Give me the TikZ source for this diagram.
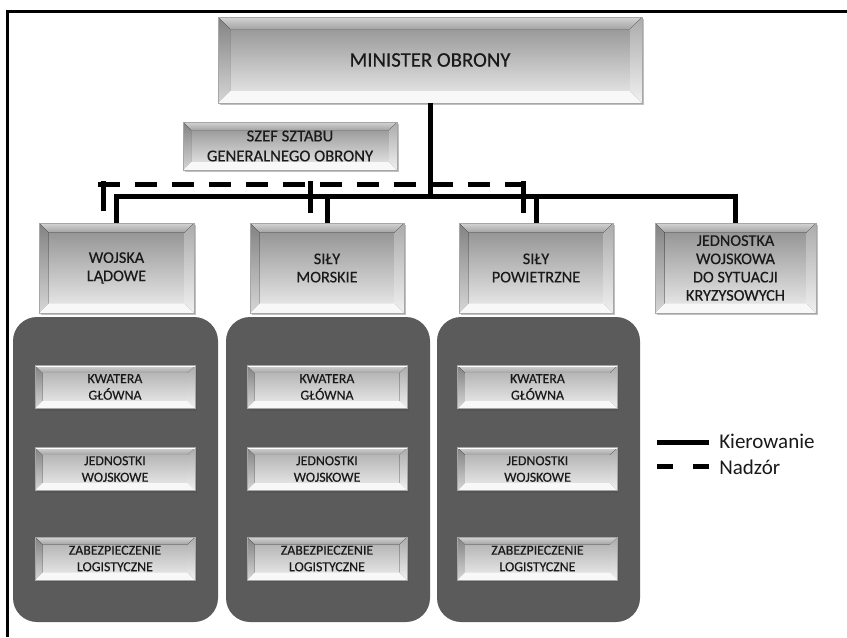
\documentclass[tikz,border=0pt]{standalone}
\usepackage{fontspec}
\setmainfont{Carlito}
\newfontfamily\boxfont{Carlito}[FakeBold=0.35]
\usetikzlibrary{calc,shadows}

\definecolor{inkc}{HTML}{1A1A1A}
\definecolor{panelc}{HTML}{5B5B5B}
\definecolor{facetop}{HTML}{8C8C8C}
\definecolor{facebot}{HTML}{EEEEEE}
\definecolor{unittop}{HTML}{ABABAB}
\definecolor{bevtopA}{HTML}{D4D4D4}
\definecolor{bevtopB}{HTML}{A4A4A4}
\definecolor{bevleftA}{HTML}{828282}
\definecolor{bevleftB}{HTML}{D6D6D6}
\definecolor{bevrightA}{HTML}{ABABAB}
\definecolor{bevrightB}{HTML}{F0F0F0}
\definecolor{bevbot}{HTML}{F8F8F8}

\tikzset{
  bevel width/.store in=\bvw, bevel width=6pt,
  bevelbox/.style={
    rectangle, inner sep=0pt, align=center, text=inkc,
    draw=black!35, line width=0.4pt,
    top color=facetop, bottom color=facebot,
    drop shadow={shadow xshift=1.2pt, shadow yshift=-1.6pt, opacity=0.35, fill=black!70},
    path picture={
      \coordinate (bbnw) at (path picture bounding box.north west);
      \coordinate (bbne) at (path picture bounding box.north east);
      \coordinate (bbsw) at (path picture bounding box.south west);
      \coordinate (bbse) at (path picture bounding box.south east);
      \coordinate (innw) at ($(bbnw)+(\bvw,-\bvw)$);
      \coordinate (inne) at ($(bbne)+(-\bvw,-\bvw)$);
      \coordinate (insw) at ($(bbsw)+(\bvw,\bvw)$);
      \coordinate (inse) at ($(bbse)+(-\bvw,\bvw)$);
      % top facet
      \fill[top color=bevtopA, bottom color=bevtopB] (bbnw) -- (bbne) -- (inne) -- (innw) -- cycle;
      % left facet
      \fill[top color=bevleftA, bottom color=bevleftB] (bbnw) -- (innw) -- (insw) -- (bbsw) -- cycle;
      % right facet
      \fill[top color=bevrightA, bottom color=bevrightB] (bbne) -- (bbse) -- (inse) -- (inne) -- cycle;
      % bottom facet
      \fill[bevbot] (bbsw) -- (insw) -- (inse) -- (bbse) -- cycle;
      % highlight along the top edge
      \draw[white, line width=0.9pt] ($(bbnw)+(0,-0.6pt)$) -- ($(bbne)+(0,-0.6pt)$);
    }
  },
  topbox/.style={bevelbox, bevel width=9pt, font=\boxfont\fontsize{15.6}{18}\selectfont},
  chiefbox/.style={bevelbox, bevel width=6pt, font=\boxfont\fontsize{12.5}{15}\selectfont},
  branchbox/.style={bevelbox, bevel width=7pt, font=\boxfont\fontsize{12.2}{13.7}\selectfont},
  unitbox/.style={bevelbox, bevel width=5.5pt, top color=unittop,
    font=\boxfont\fontsize{10.4}{12.4}\selectfont,
    minimum width=120pt, minimum height=32.25pt},
  panel/.style={rectangle, fill=panelc, rounded corners=18pt, inner sep=0pt,
    minimum height=228.75pt},
  conn/.style={line width=3.75pt, black, line join=miter},
  supline/.style={conn, dash pattern=on 16.5pt off 11.25pt},
  legendtext/.style={anchor=base west, inner sep=0pt, text=inkc,
    font=\fontsize{15.75}{18}\selectfont},
}

\begin{document}
\begin{tikzpicture}[x=0.75pt, y=-0.75pt]
  \useasboundingbox (0,0) rectangle (847,637);
  \fill[white] (0,0) rectangle (847,637);

  % outer frame (top and left edges)
  \draw[line width=1.9pt, line join=miter] (847,11.5) -- (7.5,11.5) -- (7.5,637);

  % dark panels behind each branch
  \node[panel, minimum width=153.75pt] (p1) at (115.5,469.5) {};
  \node[panel, minimum width=153pt]    (p2) at (328,469.5) {};
  \node[panel, minimum width=152.25pt] (p3) at (538.5,469.5) {};

  % top level
  \node[topbox, minimum width=318pt, minimum height=64.5pt] (mo) at (430,60) {MINISTER OBRONY};
  \node[chiefbox, minimum width=160.5pt, minimum height=36pt] (sg) at (290,146)
    {SZEF SZTABU\\GENERALNEGO OBRONY};

  % branches
  \node[branchbox, minimum width=116.25pt, minimum height=67.5pt] (wl) at (116.5,268) {WOJSKA\\LĄDOWE};
  \node[branchbox, minimum width=115.5pt, minimum height=67.5pt] (sm) at (327,268) {SIŁY\\MORSKIE};
  \node[branchbox, minimum width=115.5pt, minimum height=67.5pt] (sp) at (536,268) {SIŁY\\POWIETRZNE};
  \node[branchbox, minimum width=120.75pt, minimum height=67.5pt] (jw) at (735.5,268)
    {JEDNOSTKA\\WOJSKOWA\\DO SYTUACJI\\KRYZYSOWYCH};

  % units inside each panel
  \foreach \c/\x in {a/115, b/327, c/537.5} {
    \node[unitbox] (kw\c) at (\x,387)   {KWATERA\\GŁÓWNA};
    \node[unitbox] (je\c) at (\x,469)   {JEDNOSTKI\\WOJSKOWE};
    \node[unitbox] (za\c) at (\x,558.5) {ZABEZPIECZENIE\\LOGISTYCZNE};
  }

  % command lines (solid)
  \coordinate (bus) at (430,196);
  \draw[conn] (mo.south) -- (bus);
  \draw[conn] (wl.north) |- (bus) -| (jw.north);
  \draw[conn] (sm.north) -- (sm.north |- bus);
  \draw[conn] (sp.north) -- (sp.north |- bus);

  % supervision lines (dashed)
  \coordinate (dtop) at (0,181.25);
  \coordinate (dl) at (103,211);
  \coordinate (dm) at (310,213);
  \coordinate (dr) at (523,213);
  \coordinate (dbl) at (98,184);
  \coordinate (dbr) at (525.5,184);
  \draw[supline] (dbl) -- (dbr);
  \draw[conn] (dl) -- (dl |- dtop);
  \draw[conn] (dm) -- (dm |- dtop);
  \draw[conn] (dr) -- (dr |- dtop);

  % legend
  \draw[line width=3.4pt] (657,442.7) -- (709,442.7);
  \draw[line width=3.4pt, dash pattern=on 12pt off 15pt] (657,466.7) -- (709,466.7);
  \node[legendtext] (lk) at (719,448) {Kierowanie};
  \node[legendtext] (ln) at (719,474) {Nadzór};
\end{tikzpicture}
\end{document}
